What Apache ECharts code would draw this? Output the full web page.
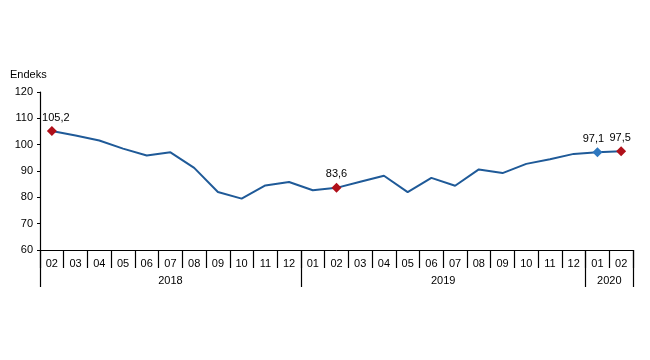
<!DOCTYPE html>
<html>
<head>
<meta charset="utf-8">
<script src="https://cdn.jsdelivr.net/npm/echarts@6/dist/echarts.min.js"></script>
<style>html,body{margin:0;padding:0;background:#fff}#c{width:650px;height:360px}</style>
</head>
<body>
<div id="c"></div>
<script>
const months = ['02','03','04','05','06','07','08','09','10','11','12','01','02','03','04','05','06','07','08','09','10','11','12','01','02'];
const values = [105.2,103.5,101.6,98.5,95.9,97.1,91.2,82.0,79.5,84.5,85.8,82.7,83.6,85.9,88.2,82.0,87.4,84.4,90.6,89.2,92.7,94.5,96.5,97.1,97.5];
const years = ['2018','2019','2020'];
const yearCounts = [11,12,2];
const markedIdx = [0,12,23,24];
const markColors = {0:'#B0101A',12:'#B0101A',23:'#2E78C0',24:'#B0101A'};
const labelShift = {0:4,12:0,23:-4,24:-1};
const yTicks = [60,70,80,90,100,110,120];

const bounds = [0]; yearCounts.forEach(c => bounds.push(bounds[bounds.length-1]+c));
const centers = years.map((y,i) => (bounds[i]+bounds[i+1])/2);

const data = values.map((v,i) => {
  if (markedIdx.includes(i)) {
    return {value:v, symbol:'diamond', symbolSize:10,
      itemStyle:{color:markColors[i]},
      label:{show:true, position:'top', distance:3, offset:[labelShift[i],0], color:'#000', fontSize:11, fontFamily:'Arial, Liberation Sans',
        formatter: p => p.value.toFixed(1).replace('.',',')}};
  }
  return {value:v, symbol:'none'};
});

const chart = echarts.init(document.getElementById('c'));
chart.setOption({
  animation:false,
  grid:{left:40, right:17, top:92, bottom:110, containLabel:false},
  graphic:[{type:'text', left:10, top:69, style:{text:'Endeks', fontSize:11, fontFamily:'Arial, Liberation Sans', fill:'#000'}}],
  xAxis:[{
    type:'category', data:months, boundaryGap:true, position:'bottom', offset:0,
    axisLine:{show:true, lineStyle:{color:'#000', width:1}},
    axisTick:{show:true, interval:0, length:18, lineStyle:{color:'#000', width:1.2}},
    axisLabel:{interval:0, margin:8, fontSize:11, color:'#000', fontFamily:'Arial, Liberation Sans'}
  },{
    type:'value', min:0, max:values.length, position:'bottom', offset:0,
    axisLine:{show:false},
    splitLine:{show:false},
    axisTick:{show:true, customValues:bounds, length:37, lineStyle:{color:'#000', width:1.2}},
    axisLabel:{customValues:centers, margin:25, fontSize:11, color:'#000', fontFamily:'Arial, Liberation Sans',
      formatter: v => { const i = centers.indexOf(v); return i >= 0 ? years[i] : ''; }}
  }],
  yAxis:{
    type:'value', min:yTicks[0], max:yTicks[yTicks.length-1], interval:10,
    axisLine:{show:true, lineStyle:{color:'#000', width:1.2}},
    axisTick:{show:true, length:3, lineStyle:{color:'#000'}},
    splitLine:{show:false},
    axisLabel:{fontSize:11, color:'#000', margin:7, fontFamily:'Arial, Liberation Sans'}
  },
  series:[{
    type:'line', xAxisIndex:0, data:data, smooth:false,
    lineStyle:{color:'#1F5A98', width:2},
    itemStyle:{color:'#1F5A98'}
  }]
});
</script>
</body>
</html>
